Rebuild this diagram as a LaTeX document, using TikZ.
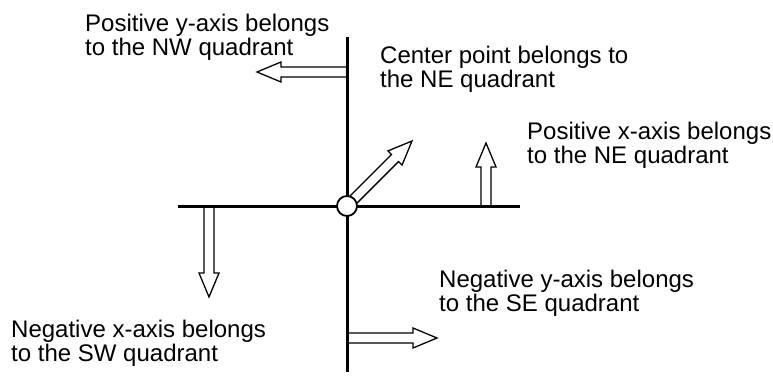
\documentclass[tikz,border=0pt]{standalone}
\usepackage{fontspec}
\setmainfont{Liberation Sans}
\usetikzlibrary{calc}

\tikzset{
  axisline/.style={line width=3pt},
  hollow/.style={draw, fill=white, line width=1.3pt, miter limit=20,
    to path={let \p1=($(\tikztotarget)-(\tikztostart)$),
      \n1={atan2(\y1,\x1)}, \n2={veclen(\x1,\y1)} in
      [shift={(\tikztostart)}, rotate=\n1]
      (0pt,5pt) -- ({\n2*1pt-24pt},5pt) -- ({\n2*1pt-24pt},10pt) -- ({\n2*1pt},0pt)
      -- ({\n2*1pt-24pt},-10pt) -- ({\n2*1pt-24pt},-5pt) -- (0pt,-5pt)}},
  note/.style={anchor=base west, align=left, inner sep=0pt,
    font=\fontsize{24}{24.5}\selectfont},
  dot/.style={circle, draw, fill=white, line width=1.8pt, minimum size=20pt, inner sep=0pt},
}

\begin{document}
\begin{tikzpicture}[x=1pt, y=-1pt]
  \useasboundingbox (0,0) rectangle (773,375);

  \coordinate (o) at (347,206);
  \coordinate (top) at (347,37);
  \coordinate (bottom) at (347,372);
  \coordinate (left) at (178,206);
  \coordinate (right) at (520,206);

  \coordinate (nw0) at (347,72);   \coordinate (nw1) at (257,72);
  \coordinate (ne1) at (412,141);
  \coordinate (px0) at (486,206);  \coordinate (px1) at (486,143);
  \coordinate (nx0) at (209,206);  \coordinate (nx1) at (209,297);
  \coordinate (ny0) at (347,338);  \coordinate (ny1) at (437,338);

  \draw[hollow] (nw0) to (nw1);
  \draw[hollow] (o) to (ne1);
  \draw[hollow] (px0) to (px1);
  \draw[hollow] (nx0) to (nx1);
  \draw[hollow] (ny0) to (ny1);

  \draw[axisline] (top) -- (bottom);
  \draw[axisline] (left) -- (right);
  \node[dot] (c) at (o) {};

  \node[note] (tnw) at (85,55.5) {Positive y-axis belongs\\to the NW quadrant};
  \node[note] (tne) at (380,87.5) {Center point belongs to\\the NE quadrant};
  \node[note] (tpx) at (527,163.5) {Positive x-axis belongs\\to the NE quadrant};
  \node[note] (tny) at (439,311.5) {Negative y-axis belongs\\to the SE quadrant};
  \node[note] (tnx) at (11,361.5) {Negative x-axis belongs\\to the SW quadrant};
\end{tikzpicture}
\end{document}
